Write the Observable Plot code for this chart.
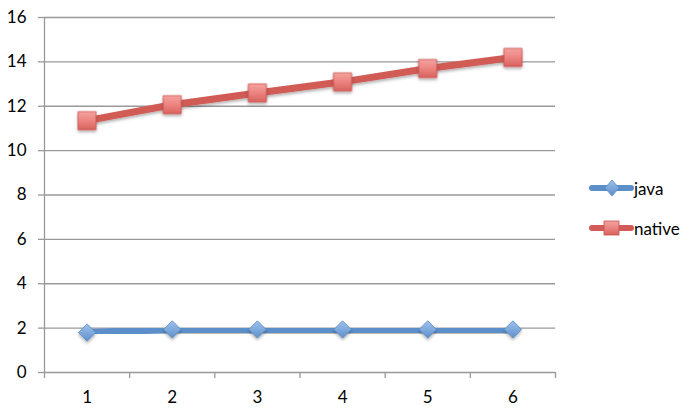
<!DOCTYPE html>
<html><head><meta charset="utf-8">
<script src="https://cdn.jsdelivr.net/npm/d3@7"></script>
<script src="https://cdn.jsdelivr.net/npm/@observablehq/plot@0.6"></script>
<style>
html,body{margin:0;padding:0;background:#fff;}
#wrap{position:relative;width:692px;height:412px;font-family:Lato,"Open Sans",sans-serif;}
#legend{position:absolute;left:588px;top:176px;font-size:17px;color:#000;}
.li{display:flex;align-items:center;height:24px;margin-bottom:16px;}
.li span{margin-left:0px;}
</style>
</head><body>
<div id="wrap"><div id="legend"></div></div>
<script>
const categories = [1, 2, 3, 4, 5, 6];
const javaValues = [1.8, 1.94, 1.94, 1.94, 1.94, 1.94];
const nativeValues = [11.35, 12.07, 12.6, 13.1, 13.7, 14.2];
const yTicks = [0, 2, 4, 6, 8, 10, 12, 14, 16];
const seriesNames = ["java", "native"];
const seriesColors = {java: "#5b8fc9", native: "#d15c57"};

const data = [];
categories.forEach((c, i) => {
  data.push({x: c, y: javaValues[i], s: "java"});
  data.push({x: c, y: nativeValues[i], s: "native"});
});
const javaData = data.filter(d => d.s === "java");
const nativeData = data.filter(d => d.s === "native");
const bounds = [...categories.map(c => c - 0.5), categories[categories.length - 1] + 0.5];

const chart = Plot.plot({
  width: 692, height: 412,
  marginLeft: 44, marginRight: 137, marginTop: 17, marginBottom: 40,
  style: {fontFamily: "Lato, 'Open Sans', sans-serif", fontSize: "17px", color: "#000", background: "#fff"},
  x: {type: "linear", domain: [bounds[0], bounds[bounds.length - 1]]},
  y: {domain: [0, 16]},
  marks: [
    Plot.ruleY(yTicks.filter(t => t > 0), {stroke: "#999", strokeWidth: 1.3, strokeOpacity: 1}),
    Plot.axisY({ticks: yTicks, tickSize: 6, tickPadding: 12, stroke: "#999", strokeWidth: 1.3, strokeOpacity: 1, label: null, fill: "#000", fontSize: 17}),
    Plot.ruleX([bounds[0]], {stroke: "#999", strokeWidth: 1.3}),
    Plot.ruleY([0], {stroke: "#999", strokeWidth: 1.3}),
    Plot.axisX({ticks: bounds, tickFormat: () => "", tickSize: 6, stroke: "#999", strokeWidth: 1.3, strokeOpacity: 1, label: null}),
    Plot.axisX({ticks: categories, tickFormat: d => String(d), tickSize: 0, tickPadding: 18, label: null, fill: "#000", fontSize: 17}),
    Plot.line(javaData, {x: "x", y: "y", stroke: seriesColors.java, strokeWidth: 7, strokeLinecap: "round", className: "sh"}),
    Plot.line(nativeData, {x: "x", y: "y", stroke: seriesColors.native, strokeWidth: 7, strokeLinecap: "round", className: "sh"}),
    Plot.dot(javaData, {x: "x", y: "y", symbol: "diamond2", r: 7.8, fill: "url(#gJava)", stroke: "#5a8cc4", strokeWidth: 0.8, className: "sh"}),
    Plot.dot(nativeData, {x: "x", y: "y", symbol: "square", r: 10.2, fill: "url(#gNative)", stroke: "#c9524e", strokeWidth: 0.8, className: "sh"})
  ]
});

const defs = `<defs>
<linearGradient id="gJava" x1="0" y1="0" x2="0" y2="1"><stop offset="0" stop-color="#9cc1ec"/><stop offset="0.5" stop-color="#7fa9dd"/><stop offset="1" stop-color="#5e8fcb"/></linearGradient>
<linearGradient id="gNative" x1="0" y1="0" x2="0" y2="1"><stop offset="0" stop-color="#f5a3a0"/><stop offset="0.5" stop-color="#ec8480"/><stop offset="1" stop-color="#d9625e"/></linearGradient>
<filter id="shadow" x="-30%" y="-30%" width="160%" height="160%"><feDropShadow dx="0" dy="2" stdDeviation="1.5" flood-color="#000" flood-opacity="0.3"/></filter>
</defs>`;
chart.insertAdjacentHTML("afterbegin", defs);
chart.querySelectorAll("g.sh").forEach(g => g.setAttribute("filter", "url(#shadow)"));
document.getElementById("wrap").prepend(chart);

const legend = document.getElementById("legend");
seriesNames.forEach(name => {
  const isJava = name === "java";
  const marker = isJava
    ? `<path d="M24,4 L31,12 L24,20 L17,12 Z" fill="url(#gJava2)" stroke="#5a8cc4" stroke-width="0.8"/>`
    : `<rect x="16" y="5" width="15" height="14" fill="url(#gNative2)" stroke="#c9524e" stroke-width="0.8"/>`;
  legend.insertAdjacentHTML("beforeend", `<div class="li"><svg width="46" height="24">
  <defs>
  <linearGradient id="gJava2" x1="0" y1="0" x2="0" y2="1"><stop offset="0" stop-color="#9cc1ec"/><stop offset="1" stop-color="#5e8fcb"/></linearGradient>
  <linearGradient id="gNative2" x1="0" y1="0" x2="0" y2="1"><stop offset="0" stop-color="#f5a3a0"/><stop offset="1" stop-color="#d9625e"/></linearGradient>
  </defs>
  <line x1="4" y1="12" x2="43" y2="12" stroke="${seriesColors[name]}" stroke-width="6" stroke-linecap="round"/>
  ${marker}</svg><span>${name}</span></div>`);
});
</script>
</body></html>
